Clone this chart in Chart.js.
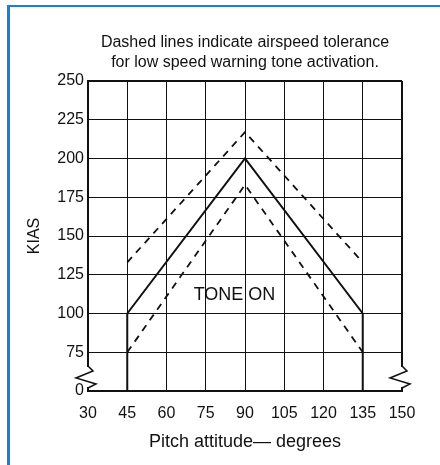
<!DOCTYPE html>
<html>
<head>
<meta charset="utf-8">
<script src="https://cdn.jsdelivr.net/npm/chart.js@4/dist/chart.umd.min.js"></script>
<style>
  html, body { margin: 0; padding: 0; background: #fff; }
  canvas { display: block; }
</style>
</head>
<body>
<canvas id="pitchChart" width="440" height="465"></canvas>
<script>
// values
const pitchTicks = [30, 45, 60, 75, 90, 105, 120, 135, 150];
const kiasTicks = [0, 75, 100, 125, 150, 175, 200, 225, 250];

const tonePitch = [45, 45, 90, 135, 135];
const toneKias = [0, 100, 200, 100, 0];

const tolPitch = [45, 90, 135];
const upperKias = [133, 217, 133];
const lowerKias = [75, 183, 75];

const titleLines = ['Dashed lines indicate airspeed tolerance', 'for low speed warning tone activation.'];
const xTitle = 'Pitch attitude\u2014 degrees';
const yTitle = 'KIAS';
const regionLabel = 'TONE ON';

// axis is broken between 0 and 75: the "0" tick sits one step below 75
const AXIS_BREAK = 50;

const pts = (xs, ys) => xs.map((x, i) => ({ x: x, y: ys[i] }));
const ink = '#111';
const FONT = '"Liberation Sans", Arial, sans-serif';

const extras = {
  id: 'extras',
  beforeDraw(chart) {
    const c = chart.ctx;
    c.save();
    c.fillStyle = '#1a80d0';
    c.fillRect(7, 5, 433, 2);
    c.fillRect(7, 5, 3, 460);
    c.restore();
  },
  afterDraw(chart) {
    const c = chart.ctx;
    const xs = chart.scales.x, ys = chart.scales.y;
    const yb = ys.getPixelForValue(AXIS_BREAK);
    c.save();
    // axis breaks
    [xs.left, xs.right].forEach(ax => {
      c.fillStyle = '#fff';
      c.fillRect(ax - 2, yb - 24, 4, 20);
      c.strokeStyle = ink;
      c.lineWidth = 1.5;
      c.beginPath();
      c.moveTo(ax, yb - 25);
      c.lineTo(ax + 5, yb - 20);
      c.lineTo(ax - 12, yb - 13);
      c.lineTo(ax + 8, yb - 7);
      c.lineTo(ax, yb - 3);
      c.stroke();
    });
    // region label
    c.fillStyle = ink;
    c.font = '18px ' + FONT;
    c.textAlign = 'center';
    c.textBaseline = 'middle';
    c.fillText(regionLabel, xs.getPixelForValue(86), ys.getPixelForValue(112));
    c.restore();
  }
};

new Chart(document.getElementById('pitchChart'), {
  type: 'line',
  data: {
    datasets: [
      { data: pts(tonePitch, toneKias), borderColor: ink, borderWidth: 2, pointRadius: 0, tension: 0 },
      { data: pts(tolPitch, upperKias), borderColor: ink, borderWidth: 1.8, borderDash: [7, 6], pointRadius: 0, tension: 0 },
      { data: pts(tolPitch, lowerKias), borderColor: ink, borderWidth: 1.8, borderDash: [7, 6], pointRadius: 0, tension: 0 }
    ]
  },
  options: {
    responsive: false,
    animation: false,
    layout: { padding: { left: 12, right: 38, top: 0, bottom: 0 } },
    plugins: {
      legend: { display: false },
      tooltip: { enabled: false },
      title: {
        display: true,
        text: titleLines,
        fullSize: false,
        color: ink,
        font: { family: FONT, size: 16, lineHeight: 1.25, weight: 'normal' },
        padding: { top: 33, bottom: 8 }
      }
    },
    scales: {
      x: {
        type: 'linear',
        min: pitchTicks[0],
        max: pitchTicks[pitchTicks.length - 1],
        afterFit: s => { s.height = 74; },
        afterBuildTicks: s => { s.ticks = pitchTicks.map(v => ({ value: v })); },
        ticks: { color: ink, font: { family: FONT, size: 16 }, padding: 13, maxRotation: 0, autoSkip: false },
        grid: {
          color: ink, drawTicks: false,
          lineWidth: c => (c.index === pitchTicks.length - 1 ? 2 : 1)
        },
        border: { color: ink, width: 2 },
        title: { display: true, text: xTitle, color: ink, font: { family: FONT, size: 18 }, padding: { bottom: 12 } }
      },
      y: {
        type: 'linear',
        min: AXIS_BREAK,
        max: kiasTicks[kiasTicks.length - 1],
        afterFit: s => { s.width = 76; },
        afterBuildTicks: s => {
          s.ticks = kiasTicks.map(v => ({ value: v === 0 ? AXIS_BREAK : v }));
        },
        ticks: {
          color: ink, font: { family: FONT, size: 16 }, padding: 4, autoSkip: false,
          callback: v => (v === AXIS_BREAK ? '0' : String(v))
        },
        grid: {
          color: ink, drawTicks: false,
          lineWidth: c => (c.index === kiasTicks.length - 1 ? 2 : 1)
        },
        border: { color: ink, width: 2 },
        title: { display: true, text: yTitle, color: ink, font: { family: FONT, size: 16 }, padding: { top: 13 } }
      }
    }
  },
  plugins: [extras]
});
</script>
</body>
</html>
